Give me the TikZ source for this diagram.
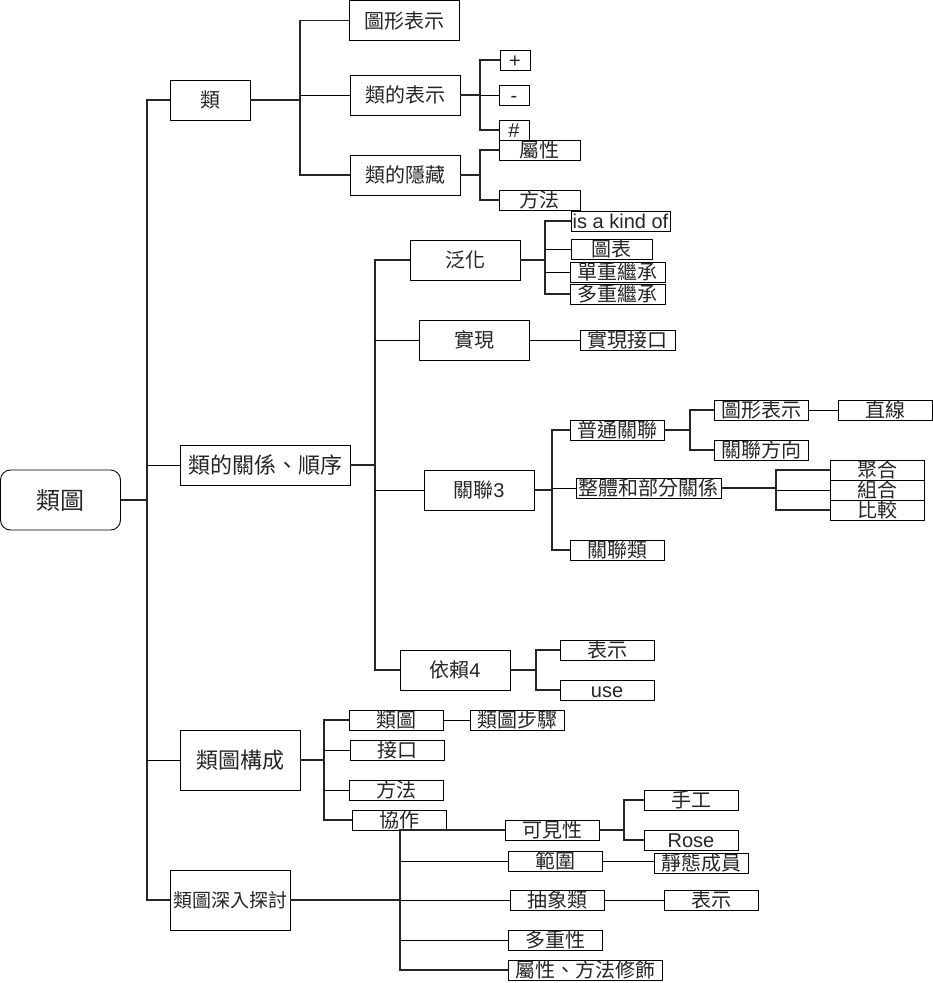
\documentclass[tikz,border=0pt]{standalone}
\usepackage{fontspec}
\setmainfont{Noto Sans CJK TC}
\newfontfamily\latin{Liberation Sans}

\begin{document}
\begin{tikzpicture}[
  x=1pt, y=-1pt,
  every node/.style={
    align=center,
    text=black!85,
    inner sep=0pt,
    outer sep=0pt,
    text height=16pt,
    text depth=0.8pt,
    font=\fontsize{20}{22}\selectfont,
  },
  box/.style={
    draw=black,
    line width=0.9pt,
    fill=white,
  },
  rootbox/.style={
    box,
    rounded corners=10pt,
    minimum width=120pt,
    minimum height=60pt,
    text height=19pt,
    font=\fontsize{24}{26}\selectfont,
  },
  topic/.style={
    box,
    minimum width=110pt,
    minimum height=40pt,
  },
  leaf/.style={
    box,
    minimum width=94pt,
    minimum height=20pt,
  },
  signbox/.style={
    box,
    minimum width=30pt,
    minimum height=20pt,
  },
  spine/.style={
    line width=1.7pt,
    black!85,
  },
  link/.style={
    line width=0.8pt,
    black,
  },
]
\useasboundingbox (0,0) rectangle (933,983);

% --- nodes ---
\node[rootbox] (root) at (60.5,500) {類圖};

\node[topic, minimum width=80pt] (cls) at (210,100) {類};
\node[topic, minimum width=170pt, text height=17.5pt, font=\fontsize{22}{24}\selectfont] (rel) at (265,465) {類的關係、順序};
\node[topic, minimum width=120pt, minimum height=60pt, text height=17.5pt, font=\fontsize{22}{24}\selectfont] (comp) at (240,760) {類圖構成};
\node[topic, minimum width=120pt, minimum height=60pt, text height=15.2pt, font=\fontsize{19}{21}\selectfont] (deep) at (230,900) {類圖深入探討};

% class
\node[topic] (cgfx) at (404,20.5) {圖形表示};
\node[topic] (cnot) at (405,95) {類的表示};
\node[topic] (chide) at (405,175) {類的隱藏};
\node[signbox] (plus) at (515,60) {\latin +};
\node[signbox] (minus) at (514,95) {\latin -};
\node[signbox] (hash) at (514,130) {\latin \#};
\node[leaf, minimum width=81pt] (hattr) at (539.5,150) {屬性};
\node[leaf, minimum width=81pt] (hmeth) at (539.5,200) {方法};

% relations
\node[topic] (gen) at (465,260) {泛化};
\node[topic] (real) at (474,340) {實現};
\node[topic] (assoc) at (479,490) {關聯{\latin 3}};
\node[topic] (dep) at (455,670) {依賴{\latin 4}};

\node[leaf, minimum width=99pt] (kind) at (620.5,221) {\latin is a kind of};
\node[leaf, minimum width=81pt] (chart) at (611.5,249) {圖表};
\node[leaf, minimum width=95pt] (single) at (617.5,272) {單重繼承};
\node[leaf, minimum width=95pt] (multi) at (617.5,294) {多重繼承};
\node[leaf, minimum width=95pt] (realif) at (627.5,340) {實現接口};

\node[leaf] (plain) at (617,430) {普通關聯};
\node[leaf, minimum width=145pt] (whole) at (648.5,488) {整體和部分關係};
\node[leaf] (aclass) at (617,550) {關聯類};
\node[leaf] (pgfx) at (761,410) {圖形表示};
\node[leaf] (pdir) at (761,450) {關聯方向};
\node[leaf] (line) at (885,410) {直線};
\node[leaf] (agg) at (877,470) {聚合};
\node[leaf] (compo) at (877,490) {組合};
\node[leaf] (cmp) at (877,510) {比較};

\node[leaf] (depshow) at (607,650) {表示};
\node[leaf] (use) at (607,690) {\latin use};

% composition
\node[leaf] (cdiag) at (396,720) {類圖};
\node[leaf] (steps) at (517,720) {類圖步驟};
\node[leaf] (cif) at (397,750) {接口};
\node[leaf] (cmeth) at (396,790) {方法};
\node[leaf] (collab) at (399,820) {協作};

% deeper
\node[leaf] (vis) at (552,830) {可見性};
\node[leaf] (scope) at (555,861) {範圍};
\node[leaf] (abstr) at (557,900) {抽象類};
\node[leaf] (multip) at (555,940) {多重性};
\node[leaf, minimum width=154pt] (mods) at (585,970) {屬性、方法修飾};
\node[leaf] (hand) at (691,800) {手工};
\node[leaf] (rose) at (691,840) {\latin Rose};
\node[leaf] (static) at (701,863) {靜態成員};
\node[leaf] (absshow) at (711,900) {表示};

% --- connectors ---
\coordinate (rootb) at (147,500);
\draw[spine] (root.east) -- (rootb);
\draw[spine] (cls.west) -| (rootb) |- (deep.west);
\draw[link] (rootb |- rel.west) -- (rel.west);
\draw[link] (rootb |- comp.west) -- (comp.west);

\coordinate (clsb) at (300,100);
\draw[spine] (cls.east) -- (clsb);
\draw[spine] (cgfx.west) -| (clsb) |- (chide.west);
\draw[link] (clsb |- cnot.west) -- (cnot.west);

\coordinate (cnotb) at (480,95);
\draw[spine] (cnot.east) -- (cnotb);
\draw[spine] (plus.west) -| (cnotb) |- (hash.west);
\draw[link] (cnotb |- minus.west) -- (minus.west);

\coordinate (chideb) at (480,175);
\draw[spine] (chide.east) -- (chideb);
\draw[spine] (hattr.west) -| (chideb) |- (hmeth.west);

\coordinate (relb) at (375,465);
\draw[spine] (rel.east) -- (relb);
\draw[spine] (gen.west) -| (relb) |- (dep.west);
\draw[link] (relb |- real.west) -- (real.west);
\draw[link] (relb |- assoc.west) -- (assoc.west);

\coordinate (genb) at (545,260);
\draw[spine] (gen.east) -- (genb);
\draw[spine] (kind.west) -| (genb) |- (multi.west);
\draw[link] (genb |- chart.west) -- (chart.west);
\draw[link] (genb |- single.west) -- (single.west);

\draw[link] (real) -- (realif);

\coordinate (assocb) at (552,490);
\draw[spine] (assoc.east) -- (assocb);
\draw[spine] (plain.west) -| (assocb) |- (aclass.west);
\draw[link] (assocb |- whole.west) -- (whole.west);

\coordinate (plainb) at (690,430);
\draw[spine] (plain.east) -- (plainb);
\draw[spine] (pgfx.west) -| (plainb) |- (pdir.west);
\draw[link] (pgfx) -- (line);

\coordinate (wholeb) at (776,488);
\draw[spine] (whole.east) -- (wholeb);
\draw[spine] (agg.west) -| (wholeb) |- (cmp.west);
\draw[link] (wholeb |- compo.west) -- (compo.west);

\coordinate (depb) at (536,670);
\draw[spine] (dep.east) -- (depb);
\draw[spine] (depshow.west) -| (depb) |- (use.west);

\coordinate (compb) at (324,760);
\draw[spine] (comp.east) -- (compb);
\draw[spine] (cdiag.west) -| (compb) |- (collab.west);
\draw[link] (compb |- cif.west) -- (cif.west);
\draw[link] (compb |- cmeth.west) -- (cmeth.west);
\draw[link] (cdiag) -- (steps);

\coordinate (deepb) at (400,900);
\draw[spine] (deep.east) -- (deepb);
\draw[spine] (vis.west) -| (deepb) |- (mods.west);
\draw[link] (deepb |- scope.west) -- (scope.west);
\draw[link] (deepb |- abstr.west) -- (abstr.west);
\draw[link] (deepb |- multip.west) -- (multip.west);

\coordinate (visb) at (624,830);
\draw[spine] (vis.east) -- (visb);
\draw[spine] (hand.west) -| (visb) |- (rose.west);
\draw[link] (scope.east) -- (scope.east -| static.west);
\draw[link] (abstr) -- (absshow);

\end{tikzpicture}
\end{document}
